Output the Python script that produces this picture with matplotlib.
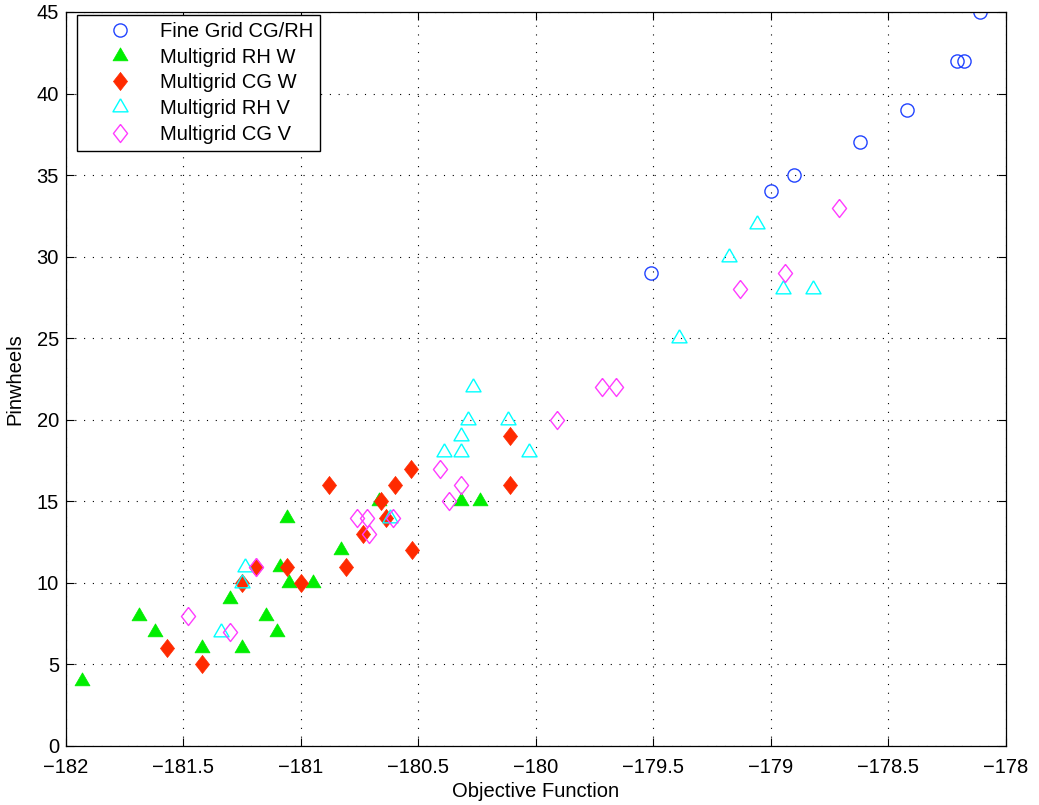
import matplotlib
matplotlib.use("Agg")
import matplotlib.pyplot as plt
import numpy as np

plt.rcParams['font.family'] = ['Liberation Sans', 'DejaVu Sans']

fine_x = [-179.51, -179.00, -178.90, -178.62, -178.42, -178.21, -178.18, -178.11]
fine_y = [29, 34, 35, 37, 39, 42, 42, 45]

rhw_x = [-181.93, -181.69, -181.62, -181.42, -181.30, -181.25, -181.15, -181.10,
         -181.09, -181.06, -181.05, -180.95, -180.83, -180.67, -180.32, -180.24]
rhw_y = [4, 8, 7, 6, 9, 6, 8, 7, 11, 14, 10, 10, 12, 15, 15, 15]

cgw_x = [-181.57, -181.42, -181.25, -181.19, -181.06, -181.00, -180.88, -180.81,
         -180.735, -180.66, -180.64, -180.60, -180.53, -180.526, -180.11, -180.11]
cgw_y = [6, 5, 10, 11, 11, 10, 16, 11, 13, 15, 14, 16, 17, 12, 19, 16]

rhv_x = [-181.34, -181.25, -181.24, -180.62, -180.39, -180.32, -180.32, -180.29,
         -180.27, -180.12, -180.03, -179.39, -179.18, -179.06, -178.95, -178.82]
rhv_y = [7, 10, 11, 14, 18, 18, 19, 20, 22, 20, 18, 25, 30, 32, 28, 28]

cgv_x = [-181.48, -181.30, -181.19, -180.76, -180.72, -180.71, -180.61, -180.41,
         -180.37, -180.32, -179.91, -179.72, -179.66, -179.13, -178.94, -178.71]
cgv_y = [8, 7, 11, 14, 14, 13, 14, 17, 15, 16, 20, 22, 22, 28, 29, 33]

x_ticks = [-182, -181.5, -181, -180.5, -180, -179.5, -179, -178.5, -178]
x_tick_labels = ['\u2212182', '\u2212181.5', '\u2212181', '\u2212180.5', '\u2212180',
                 '\u2212179.5', '\u2212179', '\u2212178.5', '\u2212178']
y_ticks = list(range(0, 50, 5))

tri = [(0, 1), (-0.866, -0.5), (0.866, -0.5), (0, 1)]
dia = [(0, 1), (0.78, 0), (0, -1), (-0.78, 0), (0, 1)]

fig = plt.figure(figsize=(10.39, 8.05), dpi=100)
ax = fig.add_axes([0.0635, 0.0733, 0.9047, 0.9118])

blue = '#2244ff'
green = '#00ee00'
red = '#ff2a00'
cyan = '#00ffff'
magenta = '#ff3cff'

ax.plot(fine_x, fine_y, linestyle='none', marker='o', markersize=9.5,
        markerfacecolor='none', markeredgecolor=blue, markeredgewidth=1.0,
        label='Fine Grid CG/RH')
ax.plot(rhw_x, rhw_y, linestyle='none', marker=tri, markersize=12.5,
        markerfacecolor=green, markeredgecolor=green, markeredgewidth=0.5,
        label='Multigrid RH W')
ax.plot(cgw_x, cgw_y, linestyle='none', marker=dia, markersize=13,
        markerfacecolor=red, markeredgecolor=red, markeredgewidth=0.5,
        label='Multigrid CG W')
ax.plot(rhv_x, rhv_y, linestyle='none', marker=tri, markersize=12.5,
        markerfacecolor='none', markeredgecolor=cyan, markeredgewidth=1.0,
        label='Multigrid RH V')
ax.plot(cgv_x, cgv_y, linestyle='none', marker=dia, markersize=13,
        markerfacecolor='none', markeredgecolor=magenta, markeredgewidth=1.0,
        label='Multigrid CG V')

ax.set_xlim(-182, -178)
ax.set_ylim(0, 45)
ax.set_xticks(x_ticks)
ax.set_xticklabels(x_tick_labels)
ax.set_yticks(y_ticks)
ax.tick_params(direction='in', top=True, right=True, labelsize=14.5, length=6, width=0.8)
ax.tick_params(axis='x', pad=8.5)
ax.tick_params(axis='y', pad=5)
ax.grid(True, linestyle=(0, (1, 6.9)), color='black', linewidth=0.8)
for s in ax.spines.values():
    s.set_linewidth(0.9)

ax.set_xlabel('Objective Function', fontsize=14.5, labelpad=4)
ax.set_ylabel('Pinwheels', fontsize=14.5, labelpad=9)

leg = ax.legend(loc='upper left', bbox_to_anchor=(0.0117, 0.996), fontsize=14.5,
                frameon=True, fancybox=False, framealpha=1, edgecolor='black',
                borderpad=0.35, labelspacing=0.33, handletextpad=0.15,
                handlelength=3.6, borderaxespad=0)
leg.get_frame().set_linewidth(1.0)

fig.savefig('out.png', dpi=100)
